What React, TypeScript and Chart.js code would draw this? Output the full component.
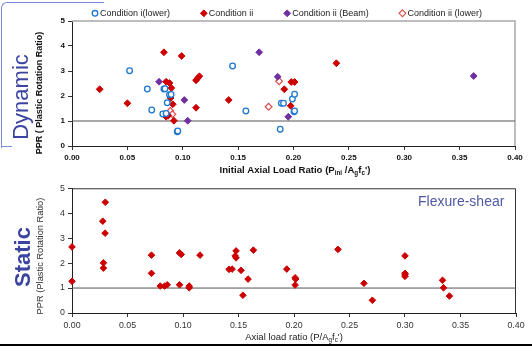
import React, { useEffect, useRef } from 'react';
import { Chart, registerables } from 'chart.js';

Chart.register(...registerables);

const FONT = '"Liberation Sans", Arial, Helvetica, sans-serif';

// ---------- data ----------
const xTickValues = [0, 0.05, 0.1, 0.15, 0.2, 0.25, 0.3, 0.35, 0.4];
const yTickValues = [0, 1, 2, 3, 4, 5];
const thresholdPPR = 1;

const legendLabels = ['Condition i(lower)', 'Condition ii', 'Condition ii (Beam)', 'Condition ii (lower)'];

// Dynamic: Condition i (lower) - open blue circles
const condILowerX = [0.052, 0.068, 0.072, 0.083, 0.084, 0.088, 0.0895, 0.086, 0.082, 0.085, 0.095, 0.0955, 0.145, 0.157, 0.188, 0.189, 0.191, 0.199, 0.201, 0.2005, 0.201];
const condILowerY = [3.01, 2.28, 1.44, 2.28, 2.29, 2.05, 2.06, 1.73, 1.28, 1.30, 0.57, 0.60, 3.20, 1.40, 0.67, 1.71, 1.71, 1.88, 2.07, 1.37, 1.40];

// Dynamic: Condition ii - filled red diamonds
const condIIX = [0.025, 0.050, 0.083, 0.099, 0.085, 0.088, 0.0897, 0.089, 0.091, 0.085, 0.087, 0.092, 0.112, 0.112, 0.1135, 0.115, 0.1415, 0.2387, 0.1917, 0.1974, 0.198, 0.201];
const condIIY = [2.27, 1.71, 3.75, 3.60, 2.57, 2.52, 2.32, 1.92, 1.67, 1.17, 1.22, 1.01, 1.53, 2.63, 2.71, 2.79, 1.84, 3.31, 2.27, 1.61, 2.56, 2.56];

// Dynamic: Condition ii (Beam) - purple diamonds
const condIIBeamX = [0.0786, 0.1014, 0.1045, 0.169, 0.1857, 0.1953, 0.3627];
const condIIBeamY = [2.57, 1.84, 1.01, 3.75, 2.77, 1.17, 2.80];

// Dynamic: Condition ii (lower) - open red diamonds
const condIILowerX = [0.0888, 0.0906, 0.1775, 0.187];
const condIILowerY = [1.40, 1.27, 1.57, 2.59];

// Static (flexure-shear) - filled red diamonds
const staticX = [0.000, 0.000, 0.030, 0.0277, 0.0298, 0.0283, 0.0283, 0.0716, 0.0716, 0.0795, 0.0834, 0.0858, 0.0969, 0.0984, 0.0969, 0.1056, 0.1056, 0.1153, 0.1415, 0.1442, 0.1478, 0.147, 0.1478, 0.1523, 0.1586, 0.154, 0.1634, 0.1935, 0.201, 0.2015, 0.201, 0.2396, 0.263, 0.2706, 0.300, 0.300, 0.300, 0.300, 0.3338, 0.3347, 0.340];
const staticY = [2.65, 1.27, 4.44, 3.68, 3.20, 2.01, 1.80, 2.32, 1.59, 1.08, 1.08, 1.13, 2.41, 2.35, 1.13, 1.08, 1.01, 2.32, 1.75, 1.76, 2.49, 2.29, 2.21, 1.71, 1.36, 0.71, 2.52, 1.76, 1.41, 1.36, 1.12, 2.55, 1.19, 0.51, 2.29, 1.59, 1.53, 1.47, 1.31, 1.01, 0.68];

// ---------- helpers ----------
const pts = (xs: number[], ys: number[]) => xs.map((x, i) => ({ x, y: ys[i] }));

const BLUE = '#1f78cf';
const RED = '#cc0000';
const PURPLE = '#7030a0';
const LRED = '#e04848';

type Part = [string, boolean?];

function drawRich(ctx: CanvasRenderingContext2D, parts: Part[], cx: number, cy: number, size: number, weight: string, color: string) {
  const sub = size * 0.66;
  ctx.save();
  ctx.fillStyle = color;
  ctx.textBaseline = 'middle';
  ctx.textAlign = 'left';
  let total = 0;
  const widths = parts.map(([t, s]) => {
    ctx.font = `${weight} ${s ? sub : size}px ${FONT}`;
    const w = ctx.measureText(t).width;
    total += w;
    return w;
  });
  let x = cx - total / 2;
  parts.forEach(([t, s], i) => {
    ctx.font = `${weight} ${s ? sub : size}px ${FONT}`;
    ctx.fillText(t, x, s ? cy + size * 0.32 : cy);
    x += widths[i];
  });
  ctx.restore();
}

function drawRotated(ctx: CanvasRenderingContext2D, text: string, cx: number, cy: number, font: string, color: string) {
  ctx.save();
  ctx.translate(cx, cy);
  ctx.rotate(-Math.PI / 2);
  ctx.font = font;
  ctx.fillStyle = color;
  ctx.textAlign = 'center';
  ctx.textBaseline = 'middle';
  ctx.fillText(text, 0, 0);
  ctx.restore();
}

function drawMarker(ctx: CanvasRenderingContext2D, style: string, x: number, y: number, r: number, fill: string, stroke: string, lw: number) {
  ctx.save();
  ctx.beginPath();
  if (style === 'circle') {
    ctx.arc(x, y, r, 0, Math.PI * 2);
  } else {
    ctx.moveTo(x, y - r);
    ctx.lineTo(x + r, y);
    ctx.lineTo(x, y + r);
    ctx.lineTo(x - r, y);
    ctx.closePath();
  }
  ctx.fillStyle = fill;
  ctx.fill();
  ctx.lineWidth = lw;
  ctx.strokeStyle = stroke;
  ctx.stroke();
  ctx.restore();
}

const dynamicDecor = {
  id: 'dynamicDecor',
  beforeDatasetsDraw(chart: any) {
    const { ctx, chartArea: a } = chart;
    ctx.save();
    ctx.strokeStyle = '#a8a8a8';
    ctx.lineWidth = 1.5;
    ctx.beginPath();
    ctx.moveTo(a.left, a.top);
    ctx.lineTo(a.right, a.top);
    ctx.lineTo(a.right, a.bottom);
    ctx.stroke();
    ctx.restore();
  },
  afterDraw(chart: any) {
    const { ctx } = chart;
    // legend
    let x = 91.7;
    const ly = 13.3;
    const dsets = chart.data.datasets.filter((d: any) => d.inLegend);
    dsets.forEach((d: any) => {
      const r = d.pointStyle === 'circle' ? 2.8 : 3.4;
      drawMarker(ctx, d.pointStyle, x + 3.3, ly, r, d.pointBackgroundColor, d.pointBorderColor, d.pointBorderWidth);
      ctx.save();
      ctx.font = `9px ${FONT}`;
      ctx.fillStyle = '#222';
      ctx.textBaseline = 'middle';
      ctx.textAlign = 'left';
      const tx = x + 8.3;
      ctx.fillText(d.label, tx, ly);
      const w = ctx.measureText(d.label).width;
      ctx.restore();
      x = tx + w + 30.5;
    });
    // axis titles
    drawRich(ctx, [['Initial Axial Load Ratio (P'], ['ini', true], [' /A'], ['g', true], ['f'], ['c', true], ["')"]], 295, 170, 9.6, 'bold', '#111');
    drawRotated(ctx, 'PPR ( Plastic Rotation Ratio)', 40, 93, `bold 9px ${FONT}`, '#111');
  },
};

const staticDecor = {
  id: 'staticDecor',
  beforeDatasetsDraw(chart: any) {
    const { ctx, chartArea: a } = chart;
    ctx.save();
    ctx.strokeStyle = '#333';
    ctx.lineWidth = 1;
    ctx.beginPath();
    ctx.moveTo(a.left, a.top + 0.5);
    ctx.lineTo(a.right - 0.5, a.top + 0.5);
    ctx.lineTo(a.right - 0.5, a.bottom);
    ctx.stroke();
    ctx.restore();
  },
  afterDraw(chart: any) {
    const { ctx } = chart;
    drawRich(ctx, [['Axial load ratio (P/A'], ['g', true], ['f'], ['c', true], ["')"]], 294, 157, 9.5, 'normal', '#222');
    drawRotated(ctx, 'PPR (Plastic Rotation Ratio)', 40.5, 76, `9.3px ${FONT}`, '#333');
    ctx.save();
    ctx.font = `14px ${FONT}`;
    ctx.fillStyle = '#4f58a4';
    ctx.textAlign = 'left';
    ctx.textBaseline = 'middle';
    ctx.fillText('Flexure-shear', 418, 22);
    ctx.restore();
  },
};

function makeScales(opts: { xHeight: number; bold: boolean; color: string; size: number }) {
  const tickFont = { family: FONT, size: opts.size, weight: opts.bold ? 'bold' : 'normal' };
  return {
    x: {
      type: 'linear',
      min: xTickValues[0],
      max: xTickValues[xTickValues.length - 1],
      afterBuildTicks: (s: any) => { s.ticks = xTickValues.map((v) => ({ value: v })); },
      afterFit: (s: any) => { s.height = opts.xHeight; },
      ticks: { color: opts.color, font: tickFont, padding: 3, maxRotation: 0, autoSkip: false, callback: (v: any) => Number(v).toFixed(2) },
      grid: { display: true, drawOnChartArea: false, drawTicks: true, tickLength: 4, color: '#333' },
      border: { display: true, color: '#222', width: 1 },
      title: { display: false },
    },
    y: {
      type: 'linear',
      min: yTickValues[0],
      max: yTickValues[yTickValues.length - 1],
      afterBuildTicks: (s: any) => { s.ticks = yTickValues.map((v) => ({ value: v })); },
      afterFit: (s: any) => { s.width = 72; },
      ticks: { color: opts.color, font: tickFont, padding: 3, callback: (v: any) => String(v) },
      grid: { display: true, drawOnChartArea: false, drawTicks: true, tickLength: 4, color: '#333' },
      border: { display: true, color: '#222', width: 1 },
      title: { display: false },
    },
  };
}

const refLine = (max: number) => ({
  type: 'line',
  label: 'ref',
  data: [{ x: xTickValues[0], y: thresholdPPR }, { x: max, y: thresholdPPR }],
  borderColor: '#555',
  borderWidth: 1,
  pointRadius: 0,
  fill: false,
  order: 10,
});

export default function App() {
  const topRef = useRef<HTMLCanvasElement>(null);
  const botRef = useRef<HTMLCanvasElement>(null);

  useEffect(() => {
    document.body.style.margin = '0';
    const xMax = xTickValues[xTickValues.length - 1];
    const top = new Chart(topRef.current as HTMLCanvasElement, {
      type: 'scatter',
      data: {
        datasets: [
          refLine(xMax) as any,
          {
            label: legendLabels[0], inLegend: true, data: pts(condILowerX, condILowerY),
            pointStyle: 'circle', pointRadius: 2.8, pointBorderWidth: 1.3,
            pointBackgroundColor: '#ffffff', pointBorderColor: BLUE, clip: false,
          },
          {
            label: legendLabels[1], inLegend: true, data: pts(condIIX, condIIY),
            pointStyle: 'rectRot', pointRadius: 3.4, pointBorderWidth: 1,
            pointBackgroundColor: RED, pointBorderColor: RED, clip: false,
          },
          {
            label: legendLabels[2], inLegend: true, data: pts(condIIBeamX, condIIBeamY),
            pointStyle: 'rectRot', pointRadius: 3.4, pointBorderWidth: 1,
            pointBackgroundColor: PURPLE, pointBorderColor: PURPLE, clip: false,
          },
          {
            label: legendLabels[3], inLegend: true, data: pts(condIILowerX, condIILowerY),
            pointStyle: 'rectRot', pointRadius: 3.4, pointBorderWidth: 1.1,
            pointBackgroundColor: '#ffffff', pointBorderColor: LRED, clip: false,
          },
        ] as any,
      },
      options: {
        animation: false,
        responsive: false,
        devicePixelRatio: 1,
        layout: { padding: { top: 21, right: 17, left: 0, bottom: 0 } },
        plugins: { legend: { display: false }, tooltip: { enabled: false }, title: { display: false } },
        scales: makeScales({ xHeight: 44, bold: true, color: '#111', size: 8 }) as any,
      },
      plugins: [dynamicDecor],
    });

    const bot = new Chart(botRef.current as HTMLCanvasElement, {
      type: 'scatter',
      data: {
        datasets: [
          refLine(xMax) as any,
          {
            label: 'Static', data: pts(staticX, staticY),
            pointStyle: 'rectRot', pointRadius: 3.3, pointBorderWidth: 1,
            pointBackgroundColor: RED, pointBorderColor: RED, clip: false,
          },
        ] as any,
      },
      options: {
        animation: false,
        responsive: false,
        devicePixelRatio: 1,
        layout: { padding: { top: 7, right: 16, left: 0, bottom: 0 } },
        plugins: { legend: { display: false }, tooltip: { enabled: false }, title: { display: false } },
        scales: makeScales({ xHeight: 34, bold: false, color: '#333', size: 8.8 }) as any,
      },
      plugins: [staticDecor],
    });

    return () => {
      top.destroy();
      bot.destroy();
    };
  }, []);

  const frame = '#7b8be0';
  return (
    <div style={{ position: 'fixed', left: 0, top: 0, width: 532, height: 347, background: '#fff', overflow: 'hidden' }}>
      {/* slide frame remnants */}
      <div style={{ position: 'absolute', left: 1, top: 2, width: 102, height: 145, borderTop: `1px solid ${frame}`, borderLeft: `1px solid ${frame}`, borderTopLeftRadius: 6 }} />
      <div style={{ position: 'absolute', left: 1, top: 146, width: 11, height: 1, background: frame }} />
      <canvas ref={topRef} width={532} height={190} style={{ position: 'absolute', left: 0, top: 0, width: 532, height: 190 }} />
      <canvas ref={botRef} width={532} height={167} style={{ position: 'absolute', left: 0, top: 180, width: 532, height: 167 }} />
      <div style={{ position: 'absolute', left: 21, top: 97, transform: 'translate(-50%, -50%) rotate(-90deg)', font: `22px ${FONT}`, color: '#3b44a0', whiteSpace: 'nowrap', lineHeight: 1 }}>Dynamic</div>
      <div style={{ position: 'absolute', left: 23, top: 257, transform: 'translate(-50%, -50%) rotate(-90deg)', font: `bold 22px ${FONT}`, color: '#3b44a0', whiteSpace: 'nowrap', lineHeight: 1 }}>Static</div>
      <div style={{ position: 'absolute', left: 0, top: 344, width: 532, height: 2, background: '#000' }} />
    </div>
  );
}
